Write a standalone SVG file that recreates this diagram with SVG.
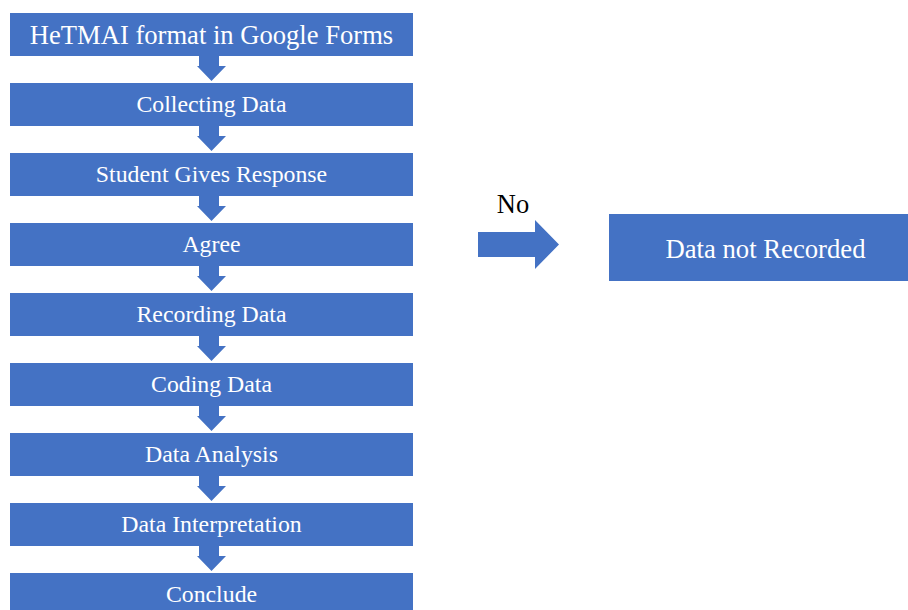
<svg xmlns="http://www.w3.org/2000/svg" width="908" height="610" viewBox="0 0 908 610">
<style>
.box{fill:#4472C4}
.t{font-family:"Liberation Serif","Times New Roman",serif;fill:#fff;text-anchor:middle;font-size:23.8px}
.arr{fill:#4472C4}
</style>
<defs>
<path id="down" d="M199,56 H219 V66 H226 L211.5,81 L197,66 H199 Z"/>
</defs>
<rect width="908" height="610" fill="#fff"/>
<g id="connectors">
<use href="#down" class="arr"/>
<use href="#down" class="arr" y="70"/>
<use href="#down" class="arr" y="140"/>
<use href="#down" class="arr" y="210"/>
<use href="#down" class="arr" y="280"/>
<use href="#down" class="arr" y="350"/>
<use href="#down" class="arr" y="420"/>
<use href="#down" class="arr" y="490"/>
<path class="arr" d="M478,232 H535 V220 L559,244.5 L535,269 V257 H478 Z"/>
<text x="513" y="213" font-family="Liberation Serif,'Times New Roman',serif" font-size="26.5" text-anchor="middle" fill="#000">No</text>
</g>
<g id="n1"><rect class="box" x="10" y="13" width="403" height="43"/><text class="t" x="211.5" y="43.5" style="font-size:26.6px">HeTMAI format in Google Forms</text></g>
<g id="n2"><rect class="box" x="10" y="83" width="403" height="43"/><text class="t" x="211.5" y="112">Collecting Data</text></g>
<g id="n3"><rect class="box" x="10" y="153" width="403" height="43"/><text class="t" x="211.5" y="182">Student Gives Response</text></g>
<g id="n4"><rect class="box" x="10" y="223" width="403" height="43"/><text class="t" x="211.5" y="252">Agree</text></g>
<g id="n5"><rect class="box" x="10" y="293" width="403" height="43"/><text class="t" x="211.5" y="322">Recording Data</text></g>
<g id="n6"><rect class="box" x="10" y="363" width="403" height="43"/><text class="t" x="211.5" y="392">Coding Data</text></g>
<g id="n7"><rect class="box" x="10" y="433" width="403" height="43"/><text class="t" x="211.5" y="462">Data Analysis</text></g>
<g id="n8"><rect class="box" x="10" y="503" width="403" height="43"/><text class="t" x="211.5" y="532">Data Interpretation</text></g>
<g id="n9"><rect class="box" x="10" y="573" width="403" height="43"/><text class="t" x="211.5" y="602">Conclude</text></g>
<g id="n10"><rect class="box" x="609" y="214" width="299" height="67"/><text class="t" x="765.5" y="257.5" style="font-size:26.7px">Data not Recorded</text></g>
</svg>
